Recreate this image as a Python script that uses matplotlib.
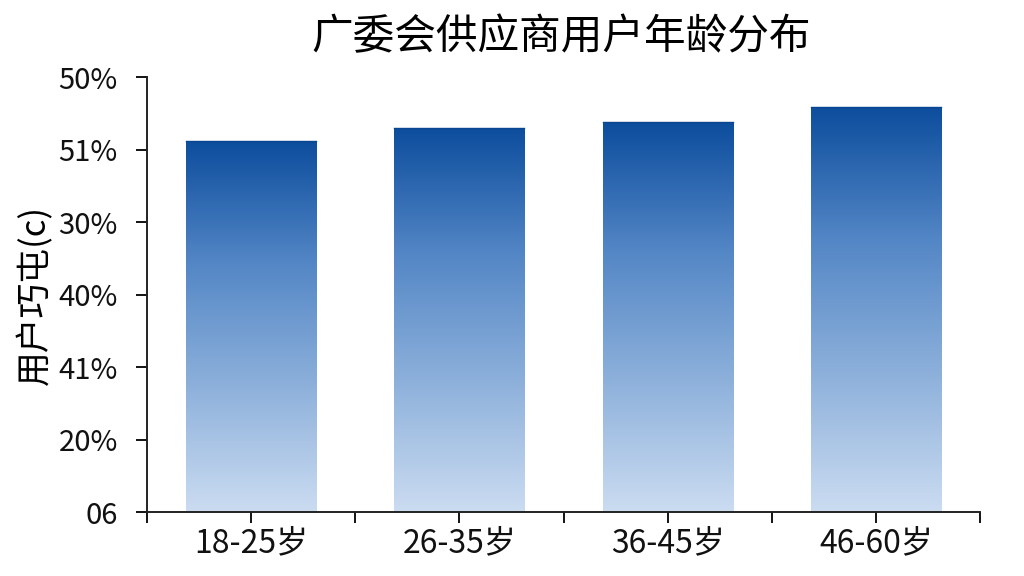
import numpy as np
import matplotlib
matplotlib.use('Agg')
import matplotlib.pyplot as plt
from matplotlib.colors import LinearSegmentedColormap

plt.rcParams['font.family'] = ['Noto Sans CJK SC', 'DejaVu Sans']

# data
age_groups = ['18-25岁', '26-35岁', '36-45岁', '46-60岁']
user_share = [51.2, 53.0, 53.8, 55.9]
y_ticks = [0, 10, 20, 30, 40, 50, 60]
y_tick_labels = ['06', '20%', '41%', '40%', '30%', '51%', '50%']

title = '广委会供应商用户年龄分布'
y_label = '用户巧屯(c)'

bar_cmap = LinearSegmentedColormap.from_list(
    'bars', ['#cbdcf1', '#8eb1db', '#5487c6', '#0c4d9d'])


def main():
    fig = plt.figure(figsize=(10.24, 5.76), dpi=100)
    ax = fig.add_axes([0.1436, 0.111, 0.8134, 0.755])

    x = np.arange(len(age_groups))
    bars = ax.bar(x, user_share, width=0.625, color='none', edgecolor='none')

    # vertical gradient fill, clipped to each bar
    grad = np.linspace(0, 1, 256).reshape(-1, 1)
    for b in bars:
        x0, y0 = b.get_x(), b.get_y()
        w, h = b.get_width(), b.get_height()
        im = ax.imshow(grad, cmap=bar_cmap, origin='lower', aspect='auto',
                       extent=[x0, x0 + w, y0, y0 + h], zorder=2)
        im.set_clip_path(b)
        ax.plot([x0, x0 + w], [y0 + h, y0 + h], color='#0a4590', lw=1, zorder=3)

    ax.set_xlim(-0.5, len(age_groups) - 0.5)
    ax.set_ylim(0, 60)

    ax.set_yticks(y_ticks)
    ax.set_yticklabels(y_tick_labels, fontsize=21, color='#111111')
    ax.set_xticks(x)
    ax.set_xticklabels(age_groups, fontsize=23, color='#111111')
    ax.set_xticks(np.arange(-0.5, len(age_groups)), minor=True)

    ax.tick_params(axis='y', length=8, width=1.3, pad=13)
    ax.tick_params(axis='x', which='both', length=8, width=1.3, pad=3)

    for side in ['top', 'right']:
        ax.spines[side].set_visible(False)
    for side in ['left', 'bottom']:
        ax.spines[side].set_linewidth(1.4)
        ax.spines[side].set_color('#222222')

    ax.set_ylabel(y_label, fontsize=25, labelpad=4)
    fig.text(0.548, 0.935, title, fontsize=30, ha='center', va='center')

    fig.savefig('out.png', dpi=100)


if __name__ == '__main__':
    main()
